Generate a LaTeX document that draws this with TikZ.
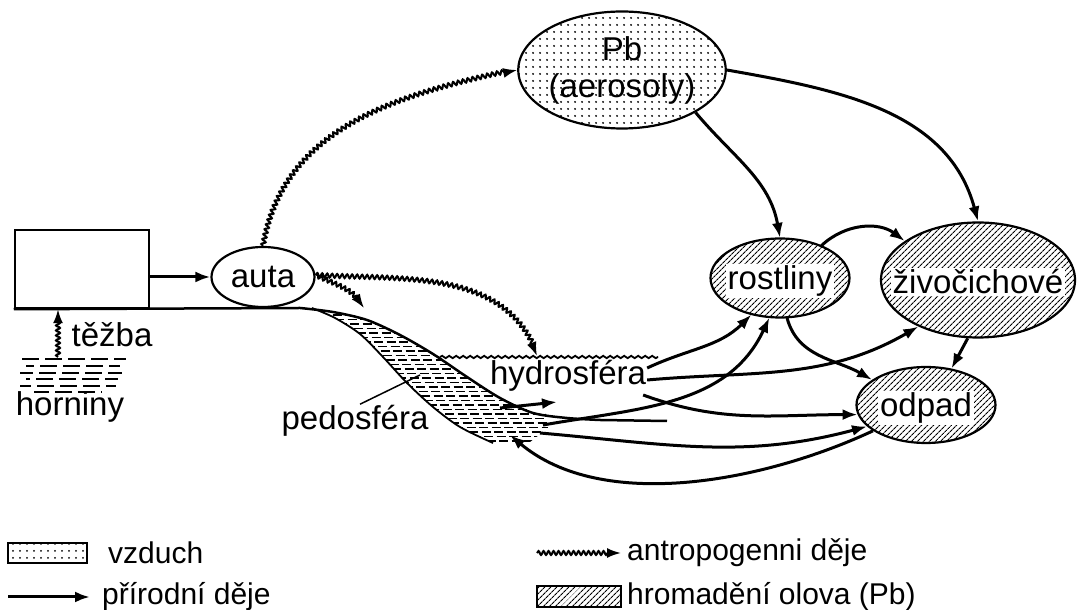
\documentclass[tikz,border=0pt]{standalone}
\usepackage{fontspec}
\setmainfont{Liberation Sans}
\usetikzlibrary{positioning, arrows.meta, decorations.pathmorphing, patterns.meta, shapes.geometric}

\begin{document}
\begin{tikzpicture}[x=1pt, y=1pt,
			airfill/.style={pattern={Dots[radius=1.1pt, distance=6.5pt]}, pattern color=black},
			hatchfill/.style={pattern={Lines[angle=45, distance=4pt, line width=1.2pt]}, pattern color=black},
			bubble/.style={ellipse, draw=black, line width=2.2pt, inner sep=0pt, font=\fontsize{33}{37}\selectfont},
			air/.style={bubble, airfill},
			heap/.style={bubble, hatchfill},
			label/.style={font=\fontsize{33}{37}\selectfont, inner sep=1pt},
			blank/.style={label, fill=white, inner sep=2pt},
			legtxt/.style={font=\fontsize{30}{34}\selectfont, anchor=west, inner sep=0pt},
			natural/.style={line width=3pt, -{Latex[length=15pt, width=11pt]}},
			anthro/.style={line width=2pt, -{Latex[length=14pt, width=10pt]}, decorate,
				decoration={snake, amplitude=2pt, segment length=5pt, post length=11pt}}
			]
			\useasboundingbox (0,0) rectangle (1077,610);
			
			% Mine, cars and the compartments
			\node[draw, line width=2.5pt, minimum width=134pt, minimum height=78pt] (mine) at (82,341) {};
			\node[bubble, minimum width=103pt, minimum height=60pt, fill=white] (auta) at (263,333) {auta};
			\node[air, minimum width=201pt, minimum height=117pt, align=center] (pb) at (622,540) {Pb\\(aerosoly)};
			\node[heap, minimum width=139pt, minimum height=79pt] (rost) at (780,332) {};
			\node[blank] (rostT) at ([yshift=-3pt]rost) {rostliny};
			\node[heap, minimum width=194pt, minimum height=115pt] (ziv) at (978,330) {};
			\node[blank] (zivT) at ([yshift=-2pt]ziv) {živočichové};
			\node[heap, minimum width=139pt, minimum height=76pt] (odpad) at (926,205) {};
			\node[blank] (odpadT) at ([yshift=-3pt]odpad) {odpad};
			
			\node[label] (hydro) at (568,234) {hydrosféra};
			\node[label] (pedo) at (355,189) {pedosféra};
			\node[label] (tezba) at (112,275) {těžba};
			\node[label] (horniny) at (70,203) {horniny};
			
			% Rock layers
			\foreach \yy/\xa/\xb/\ph in {251/22/126/0, 244/26/120/9, 237/20/122/4, 231/26/118/13, 224/20/116/6, 218/34/102/2}
				\draw[line width=1.7pt, dash pattern=on 17pt off 6pt, dash phase=\ph pt] (\xa,\yy) -- (\xb,\yy);
			
			% Soil band
			\begin{scope}
				\clip plot[smooth] coordinates {(318,301) (335,292) (360,276) (383,253) (407,227) (433,203) (460,183) (493,167)}
					-- (530,168) -- (548,182) -- (546,196)
					-- plot[smooth] coordinates {(540,196) (500,212) (467,233) (433,256) (400,275) (367,290) (333,298) (305,302)} -- cycle;
				\foreach \yy [evaluate=\yy as \ph using {mod(\yy*3,11)}] in {160,164.5,...,304}
					\draw[line width=1.3pt, dash pattern=on 9pt off 3.5pt, dash phase=\ph pt] (300,\yy) -- (560,\yy);
			\end{scope}
			\draw[line width=2.5pt] (mine.south west) -- (300,302)
				-- plot[smooth] coordinates {(300,302) (333,298) (367,290) (400,275) (433,256) (467,233) (500,212) (533,197) (567,192) (600,190)} -- (667,189);
			\draw[line width=1.8pt] plot[smooth] coordinates {(312,302) (335,292) (360,276) (383,253) (407,227) (433,203) (460,183) (493,167)};
			\draw[line width=1.8pt, decorate, decoration={snake, amplitude=1.2pt, segment length=7pt}] (440,253) -- (658,253);
			\coordinate (pedoin) at (420,235);
			\draw[line width=1.5pt] ([xshift=5pt]pedo.north) -- (pedoin);
			
			% Human-made flows
			\coordinate (ore) at (58,253);
			\draw[anthro] (ore) -- (ore |- mine.south);
			\draw[natural] (mine.east |- auta.west) -- (auta.west);
			\draw[anthro] (auta.north) to[out=80, in=192] (pb.west);
			\coordinate (soil) at (364,302);
			\draw[anthro] ([yshift=2pt]auta.east) to[out=-25, in=120] (soil);
			\coordinate (water) at (537,254);
			\draw[anthro] ([yshift=2pt]auta.east) to[out=-3, in=110] (water);
			
			% Natural flows
			\draw[natural] (pb.-30) to[out=-50, in=100] (rost.north);
			\draw[natural] (pb.east) to[out=-10, in=105] (ziv.north);
			\draw[natural] (rost.38) to[bend left=40] (ziv.152);
			\draw[natural] (rost.-80) to[out=-75, in=150] (odpad.155);
			\draw[natural] (ziv.-100) -- (odpad.55);
			\draw[natural] ([yshift=8pt]hydro.east) to[out=25, in=-135] (rost.-128);
			\draw[natural] ([yshift=-4pt]hydro.east) to[out=5, in=-150] (ziv.-142);
			\draw[natural] ([xshift=-4pt, yshift=-19pt]hydro.east) to[out=-20, in=180] (odpad.188);
			\coordinate (pedoA) at (543,185);
			\draw[natural] (pedoA) to[out=10, in=-115] (rost.-105);
			\coordinate (pedoB) at (500,202);
			\coordinate (pedoC) at (557,208);
			\draw[natural] (pedoB) -- (pedoC);
			\coordinate (pedoD) at (540,177);
			\draw[natural] (pedoD) to[out=-5, in=195] (odpad.200);
			\coordinate (pedoE) at (510,175);
			\draw[natural] (odpad.-154) to[out=-155, in=-40, looseness=0.85] (pedoE);
			
			% Legend
			\node[draw, line width=2pt, minimum width=79pt, minimum height=20pt, airfill] (legair) at (47,57) {};
			\node[legtxt] (legairT) at (108,57) {vzduch};
			\coordinate (legnatA) at (8,13);
			\coordinate (legnatB) at (90,13);
			\draw[natural] (legnatA) -- (legnatB);
			\node[legtxt] (legnatT) at (102,13) {přírodní děje};
			\coordinate (legantA) at (537,57);
			\coordinate (legantB) at (621,57);
			\draw[anthro] (legantA) -- (legantB);
			\node[legtxt] (legantT) at (627,57) {antropogenni děje};
			\node[draw, line width=2pt, minimum width=84pt, minimum height=21pt, hatchfill] (legheap) at (579,13) {};
			\node[legtxt] (legheapT) at (627,13) {hromadění olova (Pb)};
		\end{tikzpicture}
\end{document}
